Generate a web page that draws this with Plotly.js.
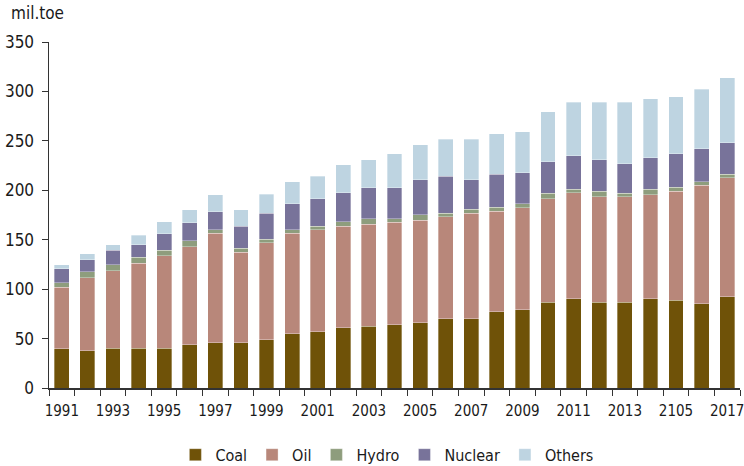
<!DOCTYPE html>
<html>
<head>
<meta charset="utf-8">
<script src="https://cdn.plot.ly/plotly-3.0.1.min.js"></script>
<style>html,body{margin:0;padding:0;background:#fff;}#chart{width:744px;height:466px;}</style>
</head>
<body>
<div id="chart"></div>
<script>
const years = ["1991","1992","1993","1994","1995","1996","1997","1998","1999","2000","2001","2002","2003","2004","2005","2006","2007","2008","2009","2010","2011","2012","2013","2014","2015","2016","2017"];
const tickLabels = ["1991","","1993","","1995","","1997","","1999","","2001","","2003","","2005","","2007","","2009","","2011","","2013","","2105","","2017"];
const coal    = [39.8,37.8,40.0,40.0,40.0,43.8,45.9,45.9,48.8,55.0,57.0,60.7,62.4,64.1,66.1,70.1,70.1,77.2,79.3,86.7,90.4,86.7,86.7,90.4,88.8,85.0,92.4];
const oil     = [62.1,73.8,78.7,86.2,93.9,99.2,110.5,91.4,98.1,101.6,103.2,103.0,103.3,103.6,103.6,103.0,106.7,101.4,103.2,104.9,107.0,106.9,106.9,105.2,110.3,120.2,120.2];
const hydro   = [4.4,5.8,5.8,6.1,5.7,5.8,3.6,4.2,3.7,3.4,3.5,4.3,5.3,3.3,5.4,3.7,4.1,4.3,3.7,5.4,3.7,5.5,3.4,5.5,4.0,3.6,3.7];
const nuclear = [14.4,12.5,14.9,12.7,16.4,18.5,18.5,22.2,26.2,26.2,27.9,29.4,31.7,31.7,35.4,37.5,29.6,33.4,31.4,32.0,33.7,31.7,30.0,31.7,33.7,33.4,31.7];
const others  = [3.8,5.7,5.6,9.5,12.0,13.2,17.1,16.8,19.0,22.3,22.7,28.3,28.4,34.1,35.8,37.4,41.2,40.9,41.5,50.7,54.4,58.4,62.2,60.0,58.0,60.1,65.8];

const seriesNames = ["Coal","Oil","Hydro","Nuclear","Others"];
const seriesData = [coal, oil, hydro, nuclear, others];
const seriesColors = ["#6f5208","#b8877a","#8e9d7d","#78739a","#bed4e1"];

const FONT = "'DejaVu Sans Condensed','Liberation Sans Narrow',Arial,sans-serif";

const traces = seriesNames.map((n, i) => ({
  type: "bar",
  name: n,
  x: years,
  y: seriesData[i],
  marker: {color: seriesColors[i], line: {color: "rgba(255,255,255,0.55)", width: 0.6}},
  hoverinfo: "x+y+name"
}));

const layout = {
  width: 744, height: 466,
  margin: {l: 49, r: 4, t: 42, b: 78},
  barmode: "stack",
  bargap: 0.42,
  paper_bgcolor: "#fff",
  plot_bgcolor: "#fff",
  font: {family: FONT, size: 16, color: "#1a1a1a"},
  showlegend: true,
  legend: {
    orientation: "h",
    x: 0.52, xanchor: "center", xref: "container",
    y: 0.024, yanchor: "middle", yref: "container",
    font: {family: FONT, size: 16, color: "#1a1a1a"},
    itemwidth: 30,
    traceorder: "normal"
  },
  xaxis: {
    type: "category",
    tickmode: "array",
    tickvals: years,
    ticktext: tickLabels,
    tickson: "boundaries",
    ticks: "outside",
    ticklen: 6,
    tickcolor: "#333",
    tickwidth: 1,
    showline: true,
    linecolor: "#333",
    linewidth: 1.5,
    showgrid: false,
    zeroline: false,
    tickfont: {family: FONT, size: 15, color: "#1a1a1a"},
    ticklabelstandoff: 8,
    tickangle: 0
  },
  yaxis: {
    range: [0, 350],
    tickmode: "linear",
    tick0: 0, dtick: 50,
    ticks: "outside",
    ticklen: 6,
    tickcolor: "#333",
    showline: true,
    linecolor: "#333",
    linewidth: 1.5,
    showgrid: false,
    zeroline: false,
    tickfont: {family: FONT, size: 17, color: "#1a1a1a"},
    ticklabelstandoff: 4
  },
  annotations: [{
    text: "mil.toe",
    xref: "paper", yref: "paper",
    x: -0.058, y: 1.084,
    xanchor: "left", yanchor: "middle",
    showarrow: false,
    font: {family: FONT, size: 17, color: "#1a1a1a"}
  }]
};

Plotly.newPlot("chart", traces, layout, {displayModeBar: false, staticPlot: true});
</script>
</body>
</html>
